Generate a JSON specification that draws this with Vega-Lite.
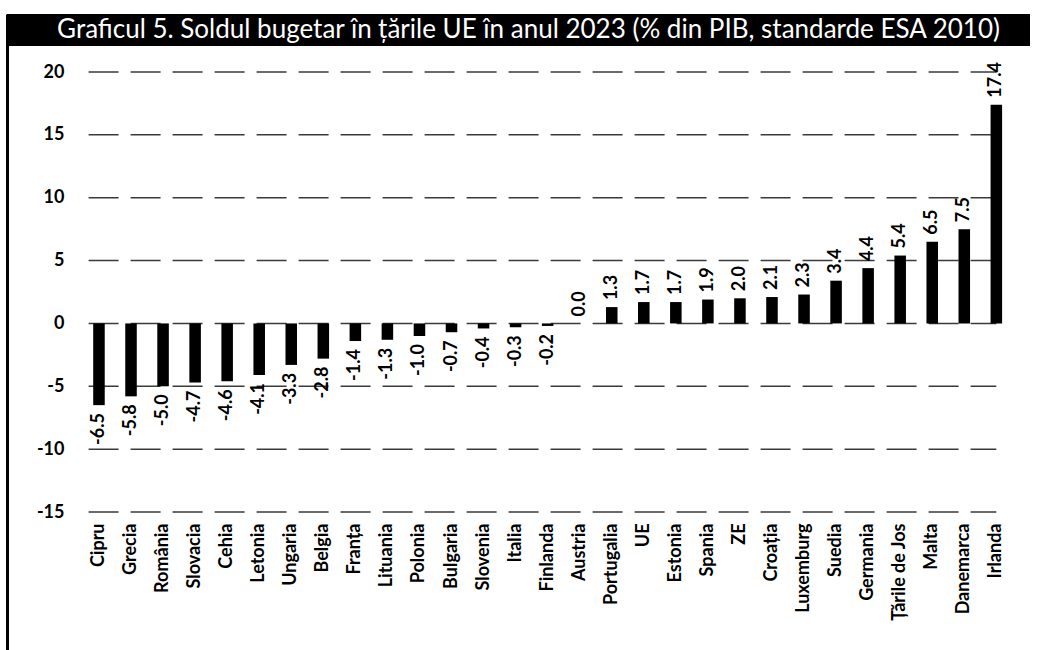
{
  "$schema": "https://vega.github.io/schema/vega-lite/v6.json",
  "width": 1048,
  "height": 650,
  "autosize": {"type": "fit", "contains": "padding"},
  "padding": {"left": 7, "top": 14, "right": 18, "bottom": 0},
  "background": "white",
  "config": {
    "view": {"stroke": null},
    "font": "Lato",
    "locale": {"number": {"decimal": ".", "thousands": ",", "grouping": [3], "currency": ["", ""], "minus": "-"}}
  },
  "data": {
    "values": [
      {"country": "Cipru", "value": -6.5},
      {"country": "Grecia", "value": -5.8},
      {"country": "România", "value": -5.0},
      {"country": "Slovacia", "value": -4.7},
      {"country": "Cehia", "value": -4.6},
      {"country": "Letonia", "value": -4.1},
      {"country": "Ungaria", "value": -3.3},
      {"country": "Belgia", "value": -2.8},
      {"country": "Franța", "value": -1.4},
      {"country": "Lituania", "value": -1.3},
      {"country": "Polonia", "value": -1.0},
      {"country": "Bulgaria", "value": -0.7},
      {"country": "Slovenia", "value": -0.4},
      {"country": "Italia", "value": -0.3},
      {"country": "Finlanda", "value": -0.2},
      {"country": "Austria", "value": 0.0},
      {"country": "Portugalia", "value": 1.3},
      {"country": "UE", "value": 1.7},
      {"country": "Estonia", "value": 1.7},
      {"country": "Spania", "value": 1.9},
      {"country": "ZE", "value": 2.0},
      {"country": "Croația", "value": 2.1},
      {"country": "Luxemburg", "value": 2.3},
      {"country": "Suedia", "value": 3.4},
      {"country": "Germania", "value": 4.4},
      {"country": "Țările de Jos", "value": 5.4},
      {"country": "Malta", "value": 6.5},
      {"country": "Danemarca", "value": 7.5},
      {"country": "Irlanda", "value": 17.4}
    ]
  },
  "layer": [
    {
      "data": {"values": [{"g": -15}, {"g": -10}, {"g": -5}, {"g": 0}, {"g": 5}, {"g": 10}, {"g": 15}, {"g": 20}]},
      "mark": {"type": "rule", "color": "#3a3a3a", "strokeWidth": 1.5, "strokeDash": [30, 12]},
      "encoding": {
        "y": {
          "field": "g", "type": "quantitative",
          "scale": {"domain": [-25.977, 24.614], "nice": false, "zero": false},
          "axis": {"title": null, "values": [-15, -10, -5, 0, 5, 10, 15, 20], "grid": false, "ticks": false,
                   "domain": true, "domainColor": "black", "domainWidth": 3, "labelPadding": -57,
                   "labelFont": "Lato", "labelFontWeight": "bold", "labelFontSize": 18, "labelColor": "black"}
        },
        "x": {
          "datum": "Cipru", "bandPosition": -0.4,
          "scale": {
            "domain": ["Cipru", "Grecia", "România", "Slovacia", "Cehia", "Letonia", "Ungaria", "Belgia", "Franța", "Lituania", "Polonia", "Bulgaria", "Slovenia", "Italia", "Finlanda", "Austria", "Portugalia", "UE", "Estonia", "Spania", "ZE", "Croația", "Luxemburg", "Suedia", "Germania", "Țările de Jos", "Malta", "Danemarca", "Irlanda"],
            "paddingInner": 0.64, "paddingOuter": 0, "range": [86.2, 995.1]
          },
          "axis": {"title": null, "ticks": false, "domain": false, "labelAngle": -90, "labelPadding": -127,
                   "labelFont": "Lato", "labelFontWeight": "bold", "labelFontSize": 18, "labelColor": "black",
                   "labelOverlap": false, "labelBound": false, "labelFlush": false}
        },
        "x2": {"datum": "Irlanda"}
      }
    },
    {
      "mark": {"type": "bar", "color": "black"},
      "encoding": {
        "x": {"field": "country", "type": "nominal", "sort": null},
        "y": {"field": "value", "type": "quantitative"}
      }
    },
    {
      "transform": [{"filter": "datum.value >= 0"}],
      "mark": {"type": "text", "angle": -90, "align": "left", "baseline": "middle", "dx": 7, "font": "Lato", "fontWeight": "bold", "fontSize": 18, "color": "black"},
      "encoding": {
        "x": {"field": "country", "type": "nominal", "sort": null},
        "y": {"field": "value", "type": "quantitative"},
        "text": {"field": "value", "type": "quantitative", "format": ".1f"}
      }
    },
    {
      "transform": [{"filter": "datum.value < 0"}],
      "mark": {"type": "text", "angle": -90, "align": "right", "baseline": "middle", "dx": -8, "font": "Lato", "fontWeight": "bold", "fontSize": 18, "color": "black"},
      "encoding": {
        "x": {"field": "country", "type": "nominal", "sort": null},
        "y": {"field": "value", "type": "quantitative"},
        "text": {"field": "value", "type": "quantitative", "format": ".1f"}
      }
    },
    {
      "data": {"values": [{"t": "Graficul 5. Soldul bugetar în țările UE în anul 2023 (% din PIB, standarde ESA 2010)"}]},
      "mark": {"type": "rect", "color": "black"},
      "encoding": {
        "y": {"datum": 22.07, "type": "quantitative"},
        "y2": {"datum": 24.614}
      }
    },
    {
      "data": {"values": [{"t": "Graficul 5. Soldul bugetar în țările UE în anul 2023 (% din PIB, standarde ESA 2010)"}]},
      "mark": {"type": "text", "color": "white", "font": "Lato", "fontSize": 26, "align": "center", "baseline": "middle", "dx": 10},
      "encoding": {
        "y": {"datum": 23.34, "type": "quantitative"},
        "text": {"field": "t", "type": "nominal"}
      }
    }
  ]
}
